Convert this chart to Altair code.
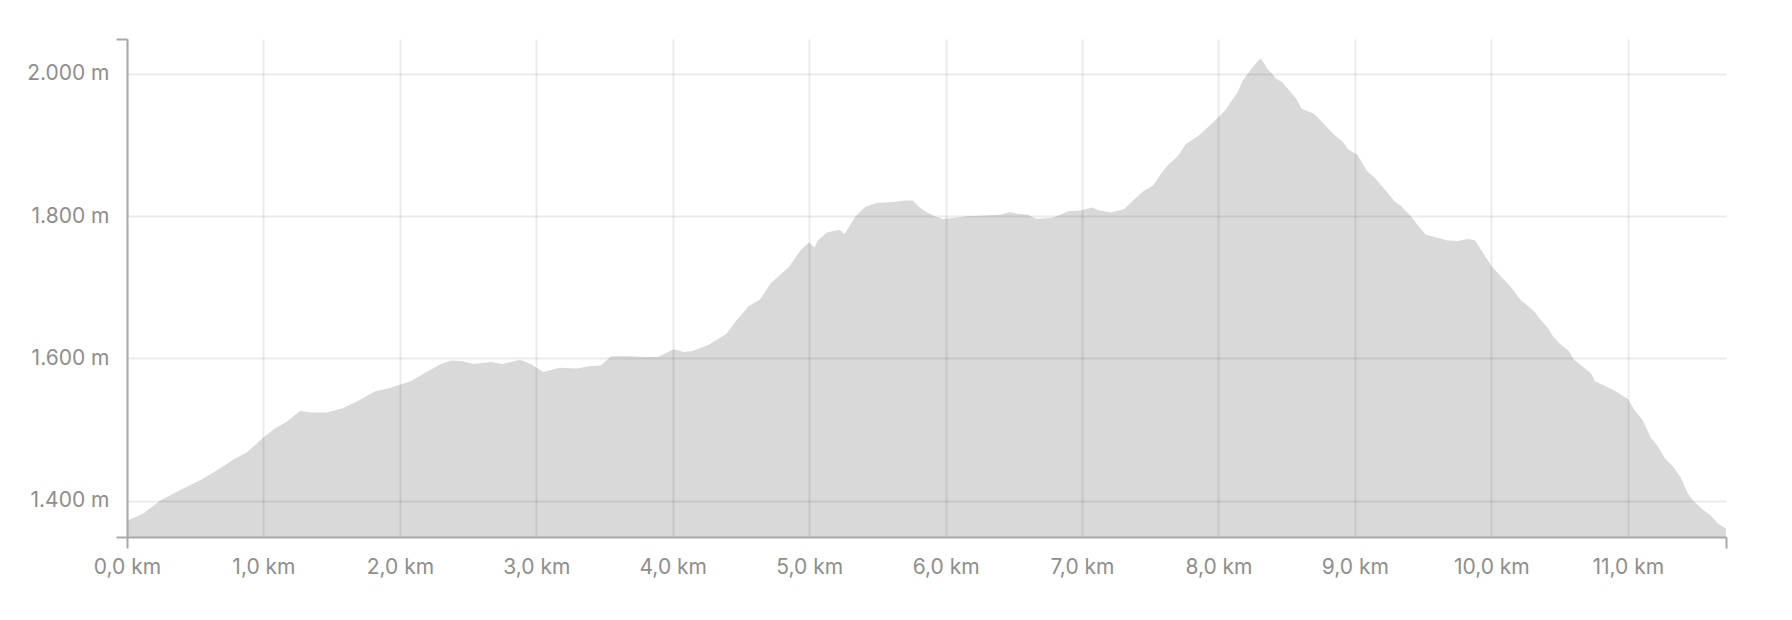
import altair as alt
import pandas as pd

# Distance along the route (km) and elevation (m)
km = [0.00, 0.12, 0.24, 0.39, 0.54, 0.66, 0.78, 0.88, 1.00, 1.08, 1.17, 1.27, 1.35, 1.46,
      1.58, 1.71, 1.82, 1.92, 2.00, 2.08, 2.17, 2.30, 2.38, 2.46, 2.54, 2.67, 2.75, 2.88,
      2.96, 3.05, 3.17, 3.30, 3.38, 3.47, 3.55, 3.68, 3.80, 3.89, 4.01, 4.08, 4.14, 4.26,
      4.39, 4.47, 4.56, 4.64, 4.72, 4.85, 4.94, 5.00, 5.04, 5.06, 5.13, 5.22, 5.26, 5.34,
      5.41, 5.50, 5.62, 5.70, 5.76, 5.80, 5.84, 5.92, 5.98, 6.09, 6.15, 6.29, 6.40, 6.47,
      6.51, 6.60, 6.67, 6.79, 6.90, 6.99, 7.07, 7.13, 7.21, 7.31, 7.38, 7.45, 7.52, 7.58,
      7.63, 7.70, 7.76, 7.86, 7.94, 8.00, 8.05, 8.14, 8.18, 8.24, 8.28, 8.31, 8.36, 8.42,
      8.47, 8.53, 8.57, 8.61, 8.70, 8.78, 8.85, 8.91, 8.95, 9.02, 9.09, 9.15, 9.22, 9.29,
      9.34, 9.41, 9.47, 9.52, 9.58, 9.67, 9.75, 9.83, 9.88, 10.00, 10.07, 10.14, 10.22,
      10.25, 10.32, 10.35, 10.41, 10.45, 10.50, 10.57, 10.60, 10.66, 10.73, 10.76, 10.85,
      10.91, 11.00, 11.05, 11.11, 11.17, 11.22, 11.27, 11.34, 11.39, 11.44, 11.48, 11.54,
      11.61, 11.66, 11.72]

elev = [1372, 1382, 1400, 1415, 1429, 1443, 1458, 1468, 1489, 1501, 1511, 1526, 1524, 1524,
        1530, 1542, 1554, 1558, 1563, 1568, 1578, 1592, 1597, 1596, 1592, 1595, 1592, 1598,
        1592, 1581, 1587, 1586, 1589, 1590, 1603, 1603, 1602, 1602, 1613, 1609, 1610, 1619,
        1634, 1654, 1674, 1683, 1706, 1728, 1753, 1763, 1756, 1765, 1777, 1781, 1775, 1800,
        1813, 1819, 1820, 1822, 1822, 1814, 1808, 1800, 1796, 1798, 1800, 1801, 1802, 1806,
        1804, 1802, 1796, 1798, 1807, 1808, 1812, 1808, 1805, 1810, 1823, 1835, 1843, 1860,
        1872, 1884, 1901, 1914, 1928, 1939, 1949, 1974, 1991, 2007, 2016, 2022, 2007, 1994,
        1988, 1974, 1965, 1951, 1944, 1928, 1914, 1905, 1894, 1886, 1863, 1853, 1837, 1821,
        1814, 1800, 1785, 1774, 1771, 1766, 1765, 1768, 1766, 1730, 1715, 1701, 1681,
        1677, 1665, 1657, 1644, 1632, 1621, 1610, 1599, 1590, 1579, 1568, 1560,
        1554, 1543, 1527, 1513, 1488, 1477, 1460, 1446, 1432, 1410, 1400, 1389,
        1379, 1368, 1361]

x_ticks = [0, 1, 2, 3, 4, 5, 6, 7, 8, 9, 10, 11]
y_ticks = [1400, 1600, 1800, 2000]
x_domain = [0, 11.72]
y_domain = [1349, 2049]

df = pd.DataFrame({"km": km, "elev": elev})

FONT = "Inter"
LABEL_COLOR = "#8e8e8e"
AXIS_COLOR = "#a8a8a8"

xscale = alt.Scale(domain=x_domain, nice=False, zero=False)
yscale = alt.Scale(domain=y_domain, nice=False, zero=False)

x_axis_main = alt.Axis(
    values=x_ticks, title=None, ticks=False, grid=True, gridColor="#000000",
    gridOpacity=0.08, gridWidth=2, domain=True, domainColor=AXIS_COLOR, domainWidth=2,
    labelFont=FONT, labelFontSize=21, labelColor=LABEL_COLOR, labelPadding=19,
    labelExpr="replace(format(datum.value, '.1f'), '.', ',') + ' km'",
    labelFlush=False, labelOverlap=False, zindex=1, orient="bottom",
)
y_axis_main = alt.Axis(
    values=y_ticks, title=None, ticks=False, grid=True, gridColor="#000000",
    gridOpacity=0.08, gridWidth=2, domain=True, domainColor=AXIS_COLOR, domainWidth=2,
    labelFont=FONT, labelFontSize=21, labelColor=LABEL_COLOR, labelPadding=18,
    labelExpr="replace(format(datum.value, ',d'), ',', '.') + ' m'",
    labelFlush=False, labelOverlap=False, zindex=1, orient="left",
)
x_axis_ends = alt.Axis(
    values=x_domain, title=None, ticks=True, tickSize=11, tickWidth=2,
    tickColor=AXIS_COLOR, labels=False, grid=False, domain=False, zindex=1,
    orient="bottom",
)
y_axis_ends = alt.Axis(
    values=y_domain, title=None, ticks=True, tickSize=11, tickWidth=2,
    tickColor=AXIS_COLOR, labels=False, grid=False, domain=False, zindex=1,
    orient="left",
)

area = alt.Chart(df).mark_area(color="#d9d9d9", interpolate="linear", clip=True).encode(
    x=alt.X("km:Q", scale=xscale, axis=x_axis_main),
    y=alt.Y("elev:Q", scale=yscale, axis=y_axis_main),
    y2=alt.datum(y_domain[0]),
)

ends = alt.Chart(df).mark_point(opacity=0).encode(
    x=alt.X("km:Q", scale=xscale, axis=x_axis_ends),
    y=alt.Y("elev:Q", scale=yscale, axis=y_axis_ends),
)

chart = (
    alt.layer(area, ends)
    .resolve_axis(x="independent", y="independent")
    .properties(
        width=1599,
        height=498,
        padding={"left": 119, "top": 31, "right": 50, "bottom": 60},
        autosize=alt.AutoSizeParams(type="none"),
        background="#ffffff",
    )
    .configure_view(strokeWidth=0)
)

chart.save("out.html", embed_options={"renderer": "svg", "actions": False})
